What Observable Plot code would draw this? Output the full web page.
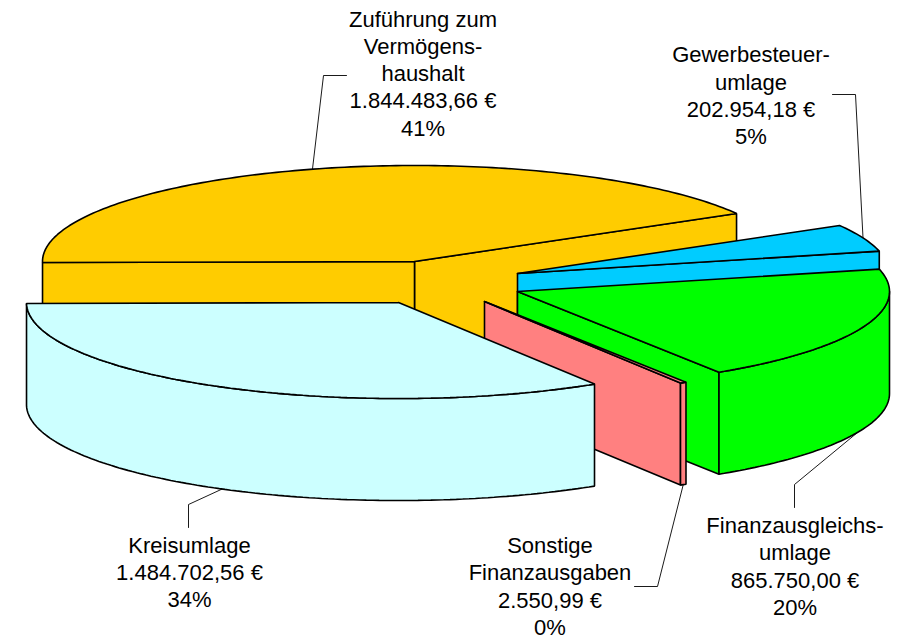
<!DOCTYPE html>
<html lang="de">
<head>
<meta charset="utf-8">
<style>
html,body{margin:0;padding:0;background:#fff}
svg{display:block}
</style>
<script src="https://cdn.jsdelivr.net/npm/d3@7"></script>
<script src="https://cdn.jsdelivr.net/npm/@observablehq/plot@0.6"></script>
</head>
<body>
<div id="chart"></div>
<script>
// ---- data, in drawing (clockwise) order from the left edge ----
const sliceNames = ["Zuführung zum Vermögenshaushalt", "Gewerbesteuerumlage", "Finanzausgleichsumlage", "Sonstige Finanzausgaben", "Kreisumlage"];
const sliceValues = [1844483.66, 202954.18, 865750.00, 2550.99, 1484702.56];
const sliceLabels = [
  "Zuführung zum\nVermögens-\nhaushalt\n1.844.483,66 €\n41%",
  "Gewerbesteuer-\numlage\n202.954,18 €\n5%",
  "Finanzausgleichs-\numlage\n865.750,00 €\n20%",
  "Sonstige\nFinanzausgaben\n2.550,99 €\n0%",
  "Kreisumlage\n1.484.702,56 €\n34%"
];
const sliceColors = ["#FFCC00", "#00CCFF", "#00FF00", "#FF8080", "#CCFFFF"];

// ---- pie layout ----
const rx = 372, ry = 96, depth = 102, startDeg = 180.6, minSweep = 1;
const centers = [[414, 261], [517, 273], [517, 291], [484, 301], [398, 302]]; // exploded slice centres
const labelAt = [[422.5, 72.2], [750.5, 93.9], [794.5, 564.8], [549.5, 584.8], [189, 570.9]];
const leaderNudgeDeg = [0.6, 0, -2, 0, 0.5];
const leaderBends = [
  [[323, 75], [346, 75]],
  [[855, 94], [832, 94]],
  [[794, 484], [794, 507]],
  [[657, 586], [634, 586]],
  [[188, 504], [188, 527]]
];

// sweep per slice: shares of the circle, the tiniest slice is held at a visible minimum
const total = d3.sum(sliceValues);
const rawSweep = sliceValues.map(v => v / total * 360);
const spare = 360 - d3.sum(rawSweep, s => Math.max(s, minSweep));
const freeSum = d3.sum(rawSweep.filter(s => s >= minSweep));
const sweeps = rawSweep.map(s => s < minSweep ? minSweep : s + spare * s / freeSum);
let cursor = startDeg;
const slices = sliceNames.map((name, i) => {
  const a0 = cursor, a1 = cursor - sweeps[i];
  cursor = a1;
  return {name, i, a0, a1, cx: centers[i][0], cy: centers[i][1]};
});

const rimPoint = (s, deg, dz = 0) => {
  const t = deg * Math.PI / 180;
  return [s.cx + rx * Math.cos(t), s.cy - ry * Math.sin(t) + dz];
};
const arcPoints = (s, from, to, dz = 0) => {
  const n = Math.max(2, Math.ceil(Math.abs(from - to)));
  return d3.range(n + 1).map(k => rimPoint(s, from + (to - from) * k / n, dz));
};

// faces, listed back to front
const faces = [];
const addFace = (s, pts) => {
  const id = faces.length;
  [...pts, pts[0]].forEach(p => faces.push({face: `${s.i}-${id}`, slice: s.name, x: p[0], y: p[1]}));
};
const wallFace = (s, deg) => {
  const p = rimPoint(s, deg);
  addFace(s, [[s.cx, s.cy], p, [p[0], p[1] + depth], [s.cx, s.cy + depth]]);
};
const sideFace = (s) => {
  const hi = Math.min(s.a0, 0), lo = s.a1; // only the front half of the rim can be seen
  if (lo >= 0) return;
  addFace(s, [...arcPoints(s, hi, lo), ...arcPoints(s, lo, hi, depth)]);
};
const topFace = (s) => addFace(s, [[s.cx, s.cy], ...arcPoints(s, s.a0, s.a1)]);

const [sYellow, sBlue, sGreen, sRed, sCyan] = slices;
wallFace(sYellow, sYellow.a1); wallFace(sYellow, sYellow.a0); topFace(sYellow);
wallFace(sBlue, sBlue.a1); topFace(sBlue);
wallFace(sGreen, sGreen.a1); sideFace(sGreen); topFace(sGreen);
wallFace(sRed, sRed.a1); sideFace(sRed); topFace(sRed);
sideFace(sCyan); topFace(sCyan);

// leaders start on the rim near each slice's middle angle
const leaders = slices.flatMap((s, i) => {
  const mid = (s.a0 + s.a1) / 2 + leaderNudgeDeg[i];
  const st = rimPoint(s, mid, Math.sin(mid * Math.PI / 180) < 0 ? depth : 0);
  return [st, ...leaderBends[i]].map(p => ({slice: s.name, x: p[0], y: p[1]}));
});
const labels = slices.map((s, i) => ({text: sliceLabels[i], x: labelAt[i][0], y: labelAt[i][1]}));

const chart = Plot.plot({
  width: 908,
  height: 639,
  margin: 0,
  style: {background: "#fff"},
  x: {domain: [0, 908], range: [0, 908], axis: null},
  y: {domain: [0, 639], range: [0, 639], axis: null},
  color: {domain: sliceNames, range: sliceColors},
  marks: [
    Plot.line(leaders, {x: "x", y: "y", z: "slice", stroke: "#000", strokeWidth: 0.9, curve: "linear"}),
    Plot.line(faces, {x: "x", y: "y", z: "face", fill: "slice", stroke: "#000", strokeWidth: 1.6, strokeLinejoin: "miter", curve: "linear"}),
    Plot.text(labels, {
      x: "x", y: "y", text: "text", fill: "#000", fontSize: 22,
      fontFamily: "Liberation Sans, Arial, sans-serif", lineHeight: 1.232, lineAnchor: "middle", textAnchor: "middle"
    })
  ]
});
document.getElementById("chart").appendChild(chart);
</script>
</body>
</html>
